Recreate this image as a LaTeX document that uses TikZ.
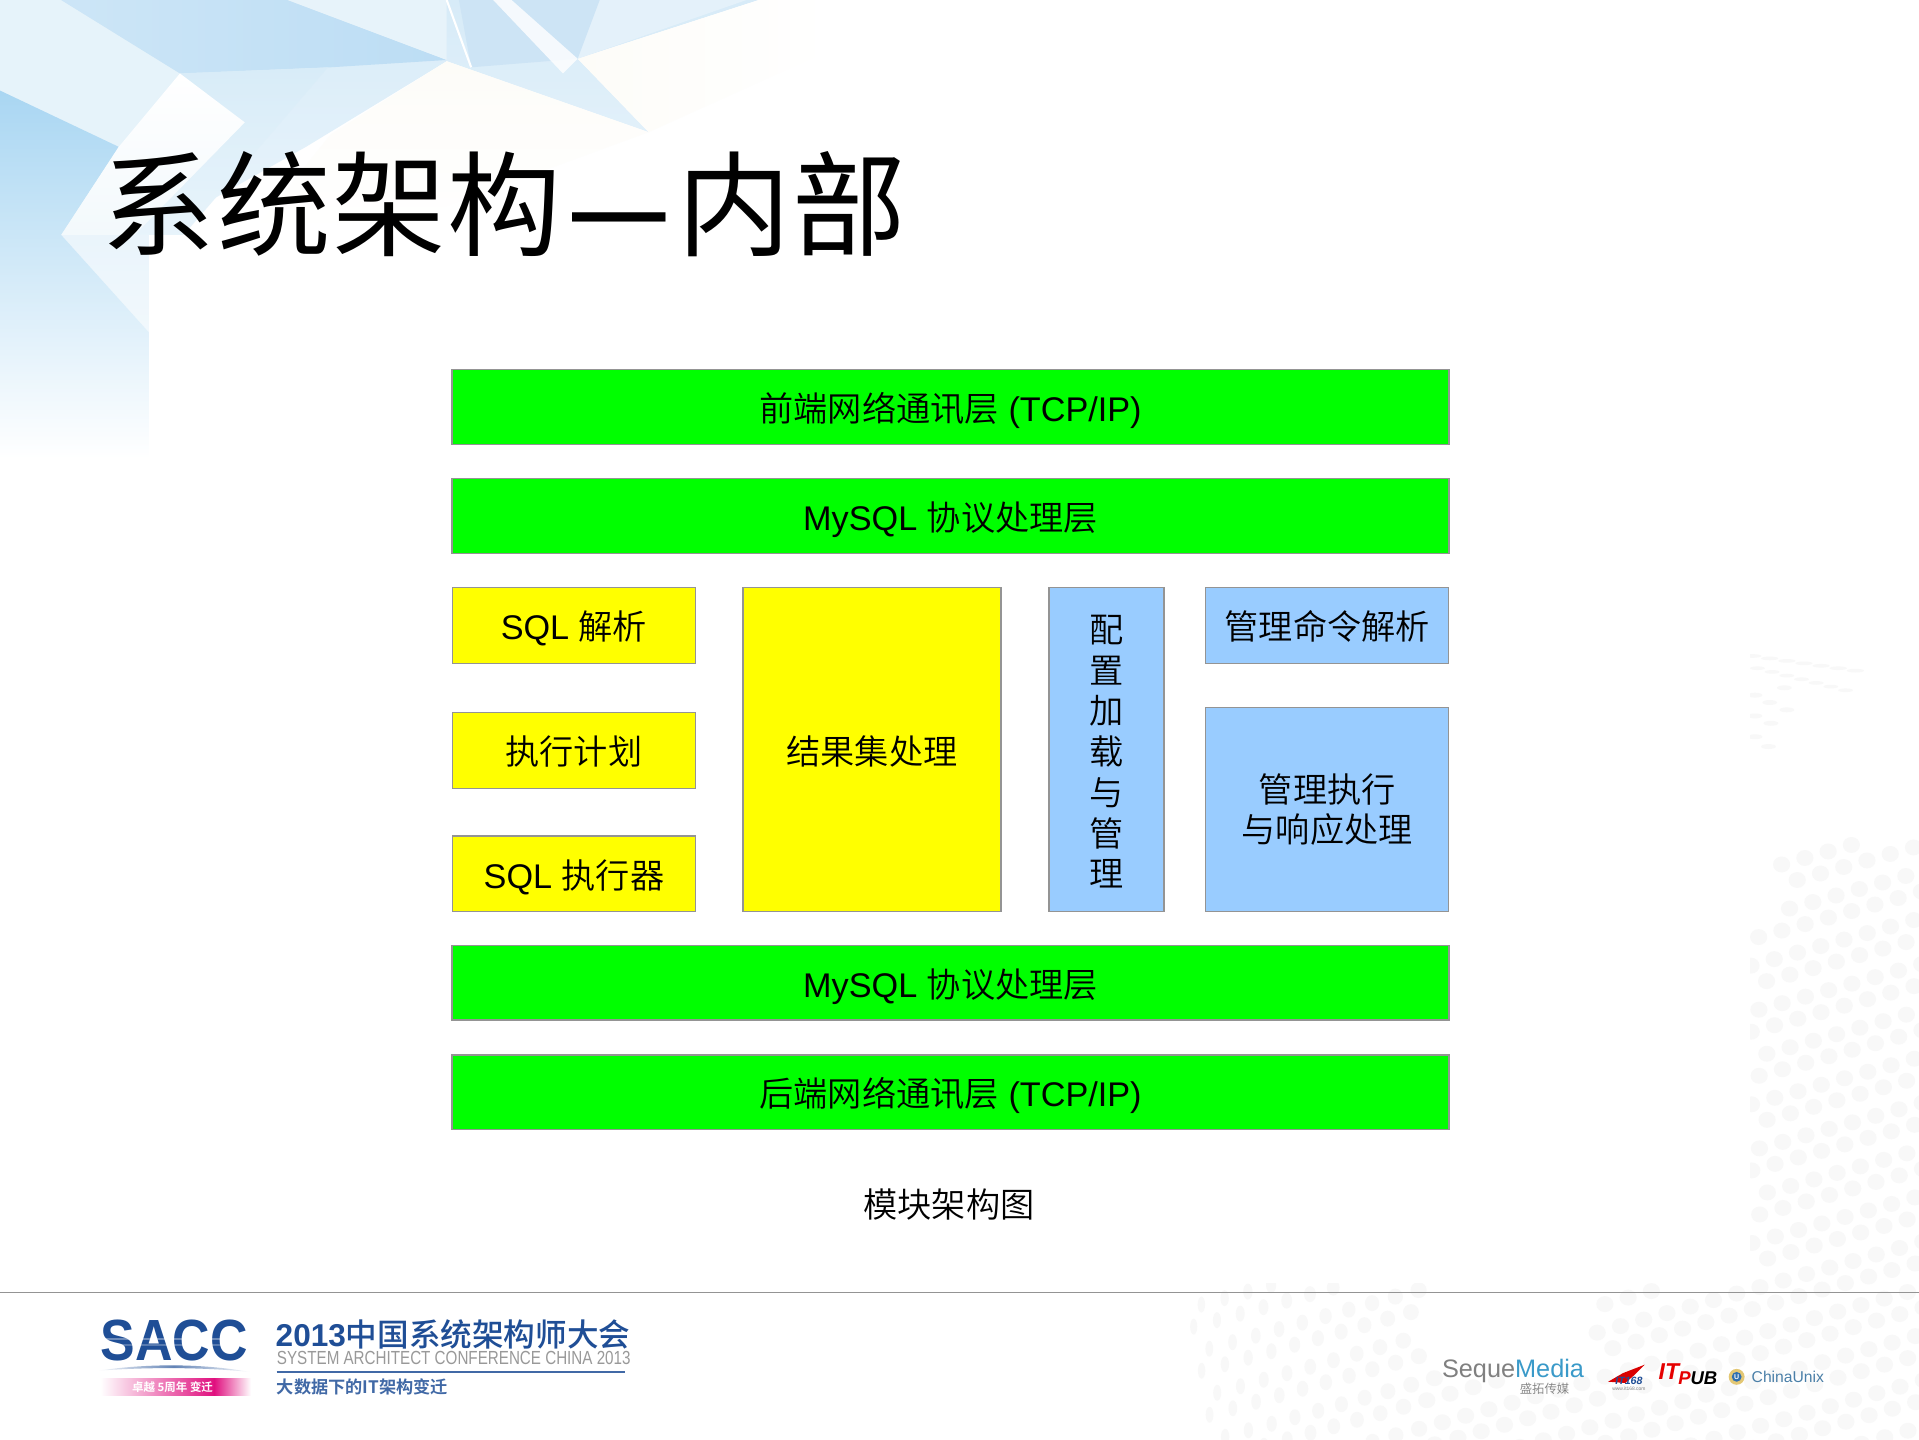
\documentclass[tikz,border=0pt]{standalone}
\usepackage{fontspec}
\usepackage{graphicx}
\setmainfont{Liberation Sans}
\newfontfamily\cjk{Noto Sans CJK SC DemiLight}
\newfontfamily\cjkr{Noto Sans CJK SC}[LetterSpace=1.4]
\newfontfamily\cjkm{Noto Sans CJK SC Medium}
\newfontfamily\cjkb{Noto Sans CJK SC Bold}
\def\uu{0.6939pt}
\newcommand{\lowr}[1]{\raisebox{0pt}[16.4pt][0pt]{#1}}
\definecolor{gbox}{HTML}{00FF00}
\definecolor{ybox}{HTML}{FFFF00}
\definecolor{bbox}{HTML}{99CCFF}
\definecolor{edgegray}{HTML}{949494}
\definecolor{saccblue}{HTML}{1F4E96}
\definecolor{dotgray}{HTML}{F8F8F8}
\definecolor{skybase}{HTML}{D7EBF8}
\definecolor{cream}{HTML}{FDFCF8}
\definecolor{skya}{HTML}{E4F1FA}
\definecolor{skyb}{HTML}{CDE4F5}
\definecolor{skyc}{HTML}{E6F3FA}
\definecolor{skyd}{HTML}{BCDDF4}
\definecolor{skye}{HTML}{D8ECF8}
\definecolor{skyf}{HTML}{E7F3FA}
\definecolor{skyg}{HTML}{A9D6F2}
\definecolor{skyh}{HTML}{D2E9F7}
\definecolor{skyi}{HTML}{F3F9FC}
\definecolor{magband}{HTML}{E0107F}
\definecolor{seqblue}{HTML}{3A9AC9}
\definecolor{ringgold}{HTML}{E3C774}
\definecolor{cublue}{HTML}{2F6FB0}
\definecolor{cutext}{HTML}{4A7FA8}
\tikzset{
  plate/.style={draw=edgegray,line width=0.75pt,inner sep=0pt,align=center,font=\fontsize{19.4pt}{23pt}\selectfont},
  greenplate/.style={plate,fill=gbox,minimum width=814.5*\uu,minimum height=61*\uu},
  yellowplate/.style={plate,fill=ybox,minimum width=198.5*\uu,minimum height=62*\uu},
  blueplate/.style={plate,fill=bbox},
  logotext/.style={inner sep=0pt,anchor=west},
  dot/.style={fill=dotgray,draw=none},
  shard/.style={draw=none}
}
\begin{document}
\begin{tikzpicture}[x=\uu,y=-\uu]
\useasboundingbox (0,0) rectangle (1568,1175.8);
\fill[white] (0,0) rectangle (1568,1175.8);
% dots
\begin{scope}
\clip (930,500) rectangle (1568,1175.8);
\foreach \i in {0,...,34}{
 \foreach \j in {0,...,36}{
  \pgfmathsetmacro{\px}{930+\i*19+mod(\j,2)*9.5+0.18*(\j*18)}
  \pgfmathsetmacro{\py}{1040+\j*18-16*18-0.28*\i*19+80}
  \pgfmathparse{ ( (\py>1050 && \px>930 && (\px<1165 || \px>1300 || \py>1125)) || (\px>1430 && \py>690 && \py<1056 && !(\py<760 && \px<1450)) ) ? 1 : 0}
  \ifnum\pgfmathresult=1
    \pgfmathsetmacro{\wr}{\px<1160 ? 2+(\px-930)*0.02 : 7}
    \fill[dot] (\px,\py) ellipse [x radius=\wr*\uu, y radius=6.5*\uu];
  \fi
 }
}
\end{scope}
\foreach \k in {0,...,6}{
  \fill[dot] (1432+\k*14,{536+\k*2}) ellipse [x radius=7*\uu,y radius=1.5*\uu];
  \fill[dot] (1436+\k*12,{546+\k*3}) ellipse [x radius=6*\uu,y radius=1.5*\uu];
}
\foreach \a/\b in {1434/568,1446/574,1458/562,1434/585,1447/591,1460/580,1434/602,1445/610}{
  \fill[dot] (\a,\b) ellipse [x radius=6*\uu,y radius=2*\uu];
}
% top-left shards
\shade[shard,top color=skybase,bottom color=skybase!10] (0,0) -- (620,0) -- (472,48) -- (530,108) -- (365,50) -- (250,120) -- (122,192) -- (122,370) -- (0,370) -- cycle;
\shade[shard,left color=cream,right color=white] (472,48) -- (620,0) -- (680,0) -- (680,40) -- (530,108) -- cycle;
\fill[shard,skya] (405,0) -- (610,0) -- (472,48) -- cycle;
\fill[shard,skyb] (375,0) -- (490,0) -- (472,48) -- (385,55) -- cycle;
\fill[shard,skyc] (0,0) -- (50,0) -- (147,60) -- (97,120) -- (0,74) -- cycle;
\shade[shard,left color=skyd!75,right color=skyd] (50,0) -- (235,0) -- (365,49) -- (270,55) -- (147,60) -- cycle;
\shade[shard,top color=skye,bottom color=skye!60] (147,60) -- (268,55) -- (226,104) -- (150,192) -- (60,192) -- cycle;
\fill[shard,skyf] (235,0) -- (365,0) -- (365,49) -- cycle;
\shade[shard,top color=skyg,middle color=skyh,bottom color=white] (0,74) -- (97,120) -- (50,192) -- (122,272) -- (122,375) -- (0,375) -- cycle;
\shade[shard,top color=white,bottom color=skyi] (147,60) -- (97,120) -- (50,192) -- (110,192) -- (200,100) -- cycle;
\shade[shard,top color=cream,bottom color=white] (365,50) -- (270,110) -- (205,192) -- (300,192) -- (530,108) -- cycle;
\draw[white,line width=1.2pt] (365,0) -- (385,55);
\fill[shard,white,opacity=.8] (403,0) -- (418,0) -- (472,48) -- (460,60) -- cycle;
\fill[white] (122,192) rectangle (1430,1048);
\fill[white] (0,375) rectangle (122,1050);
% title
\node[inner sep=0pt,anchor=west,font=\fontsize{64.5pt}{70pt}\selectfont\cjkr] (title) at (83,167) {系统架构\makebox[65.5pt]{\raisebox{3pt}{\fontsize{53pt}{55pt}\selectfont\rmfamily\bfseries —}}内部};
% plates
\node[greenplate] (front) at (776.7,332.5) {\lowr{{\cjk 前端网络通讯层} (TCP/IP)}};
\node[greenplate] (protoa) at (776.7,421.5) {\lowr{MySQL {\cjk 协议处理层}}};
\node[yellowplate] (parse) at (469,511) {\lowr{SQL {\cjk 解析}}};
\node[yellowplate] (plan) at (469,613) {\lowr{\cjk 执行计划}};
\node[yellowplate] (exec) at (469,714) {\lowr{SQL {\cjk 执行器}}};
\node[plate,fill=ybox,minimum width=211*\uu,minimum height=265*\uu] (result) at (712.5,612.5) {\lowr{\cjk 结果集处理}};
\node[blueplate,minimum width=94*\uu,minimum height=265*\uu,font=\fontsize{19.4pt}{23.1pt}\selectfont] (config) at (904,612.5) {\rule{0pt}{17.8pt}\cjk 配\\\cjk 置\\\cjk 加\\\cjk 载\\\cjk 与\\\cjk 管\\\cjk 理};
\node[blueplate,minimum width=198.5*\uu,minimum height=62*\uu] (admincmd) at (1084.5,511) {\lowr{\cjk 管理命令解析}};
\node[blueplate,minimum width=198.5*\uu,minimum height=167*\uu] (adminexec) at (1084.5,661.5) {\cjk 管理执行\\\cjk 与响应处理};
\node[greenplate] (protob) at (776.7,803) {\lowr{MySQL {\cjk 协议处理层}}};
\node[greenplate] (back) at (776.7,892.5) {\lowr{{\cjk 后端网络通讯层} (TCP/IP)}};
\node[inner sep=0pt,font=\fontsize{19.4pt}{23pt}\selectfont\cjk] (caption) at (775.5,984) {模块架构图};
% footer rule
\coordinate (ruleL) at (0,1056);
\coordinate (ruleR) at (1568,1056);
\draw[edgegray,line width=1pt] (ruleL) -- (ruleR);
% SACC logo
\node[logotext,text=saccblue] (sacc) at (82,1095) {\resizebox{83.3pt}{23pt}{\bfseries SACC}};
\fill[white,opacity=.35] (82,1093) rectangle (204,1095);
\fill[white,opacity=.25] (82,1098) rectangle (204,1099.5);
\shade[left color=white,right color=white,middle color=saccblue!70] (80,1120) .. controls (120,1114) and (165,1114) .. (204,1121) .. controls (165,1117) and (120,1117) .. (80,1120) -- cycle;
\shade[left color=white,right color=magband] (82,1126) rectangle (175,1140);
\shade[left color=magband,right color=white] (175,1126) rectangle (205,1140);
\node[inner sep=0pt,text=white,font=\fontsize{6.5pt}{7pt}\selectfont\cjkb] (saccband) at (141,1133) {卓越 5周年 变迁};
\node[logotext,text=saccblue] (conf) at (225,1090) {\resizebox{201pt}{!}{\fontsize{17pt}{18pt}\selectfont{\bfseries 2013}{\cjkm 中国系统架构师大会}}};
\node[logotext,text=gray!80] (confen) at (226,1109.5) {\resizebox{200.5pt}{7.5pt}{SYSTEM ARCHITECT CONFERENCE CHINA 2013}};
\coordinate (confL) at (226,1121);
\coordinate (confR) at (511,1121);
\draw[saccblue!85,line width=1pt] (confL) -- (confR);
\node[logotext,text=saccblue!85] (theme) at (226,1133) {\resizebox{97pt}{!}{\fontsize{10pt}{11pt}\selectfont\cjkb 大数据下的IT架构变迁}};
% partner logos
\node[logotext] (seque) at (1178,1120) {\resizebox{80.5pt}{!}{\fontsize{16pt}{17pt}\selectfont\textcolor{gray}{Seque}\textcolor{seqblue}{Media}}};
\node[inner sep=0pt,text=gray,font=\fontsize{7pt}{8pt}\selectfont\cjk] (sequecn) at (1262,1135) {盛拓传媒};
\fill[red!85!black] (1314,1129) -- (1326,1122) -- (1344,1115) -- (1336,1123) -- (1328,1130) -- cycle;
\node[inner sep=0pt,text=saccblue,font=\fontsize{6pt}{7pt}\selectfont\bfseries\itshape] (ita) at (1331,1128) {IT168};
\node[inner sep=0pt,text=gray,font=\fontsize{2.8pt}{3pt}\selectfont] (itb) at (1331,1134.5) {www.it168.com};
\node[logotext,text=red!90!black,font=\fontsize{13pt}{14pt}\selectfont\bfseries\itshape] (itpa) at (1355,1121) {IT};
\node[logotext,text=black,font=\fontsize{10.5pt}{11pt}\selectfont\bfseries\itshape] (itpb) at (1371,1126.5) {\textcolor{red!90!black}{P}UB};
\fill[ringgold] (1419,1125) circle (6.5*\uu);
\fill[cublue] (1419,1125) circle (4*\uu);
\node[inner sep=0pt,text=white,font=\fontsize{4pt}{5pt}\selectfont\bfseries] (cuu) at (1419,1125) {U};
\node[logotext,text=cutext] (cu) at (1431,1125) {\resizebox{41pt}{!}{\fontsize{8pt}{9pt}\selectfont ChinaUnix}};
\end{tikzpicture}
\end{document}
